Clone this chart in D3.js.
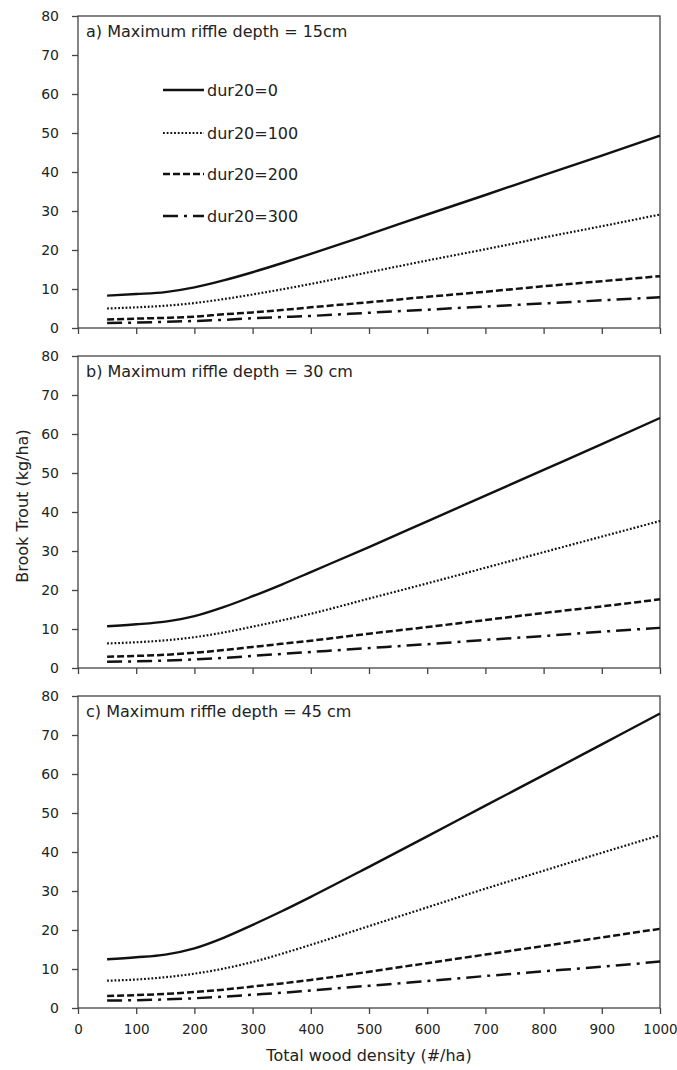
<!DOCTYPE html>
<html>
<head>
<meta charset="utf-8">
<script src="https://cdnjs.cloudflare.com/ajax/libs/d3/7.8.5/d3.min.js"></script>
<style>
  body { margin: 0; background: #fff; }
  text { font-family: "DejaVu Sans", Verdana, sans-serif; fill: #222; }
</style>
</head>
<body>
<div id="chart"></div>
<script>
// wood density (#/ha) where the curves were read
var woodDensity = [50, 100, 150, 200, 250, 300, 350, 400, 500, 600, 700, 800, 900, 1000];

var seriesNames = ["dur20=0", "dur20=100", "dur20=200", "dur20=300"];
var panelTitles = ["a) Maximum riffle depth = 15cm", "b) Maximum riffle depth = 30 cm", "c) Maximum riffle depth = 45 cm"];

// panel a : depth 15cm
var depth15_dur0   = [8.3, 8.7, 9.2, 10.4, 12.2, 14.3, 16.6, 19.0, 24.0, 29.1, 34.1, 39.2, 44.2, 49.3];
var depth15_dur100 = [5.0, 5.3, 5.7, 6.4, 7.4, 8.6, 9.9, 11.3, 14.3, 17.3, 20.2, 23.2, 26.1, 29.1];
var depth15_dur200 = [2.2, 2.4, 2.6, 2.9, 3.5, 4.0, 4.6, 5.3, 6.6, 8.0, 9.3, 10.7, 12.0, 13.3];
var depth15_dur300 = [1.3, 1.4, 1.6, 1.8, 2.1, 2.5, 2.8, 3.1, 3.9, 4.7, 5.5, 6.3, 7.1, 7.9];

// panel b : depth 30cm
var depth30_dur0   = [10.7, 11.2, 11.9, 13.3, 15.6, 18.4, 21.4, 24.6, 31.0, 37.6, 44.2, 50.8, 57.4, 64.1];
var depth30_dur100 = [6.3, 6.6, 7.1, 7.9, 9.1, 10.6, 12.2, 13.9, 17.8, 21.7, 25.7, 29.7, 33.7, 37.7];
var depth30_dur200 = [2.9, 3.1, 3.4, 3.9, 4.6, 5.4, 6.2, 7.0, 8.8, 10.5, 12.3, 14.1, 15.8, 17.6];
var depth30_dur300 = [1.6, 1.7, 1.9, 2.2, 2.6, 3.1, 3.6, 4.1, 5.1, 6.1, 7.2, 8.2, 9.3, 10.3];

// panel c : depth 45cm
var depth45_dur0   = [12.5, 13.0, 13.7, 15.3, 18.0, 21.3, 24.8, 28.5, 36.2, 44.0, 51.9, 59.7, 67.6, 75.5];
var depth45_dur100 = [7.0, 7.3, 7.9, 8.8, 10.1, 11.8, 13.9, 16.2, 21.0, 25.8, 30.6, 35.2, 39.8, 44.3];
var depth45_dur200 = [3.1, 3.3, 3.6, 4.1, 4.7, 5.5, 6.3, 7.2, 9.3, 11.5, 13.7, 15.9, 18.1, 20.3];
var depth45_dur300 = [1.9, 2.0, 2.2, 2.5, 2.9, 3.4, 3.9, 4.5, 5.7, 6.9, 8.2, 9.4, 10.6, 11.9];

var xTicks = [0, 100, 200, 300, 400, 500, 600, 700, 800, 900, 1000];
var yTicks = [0, 10, 20, 30, 40, 50, 60, 70, 80];

var panels = [
  [depth15_dur0, depth15_dur100, depth15_dur200, depth15_dur300],
  [depth30_dur0, depth30_dur100, depth30_dur200, depth30_dur300],
  [depth45_dur0, depth45_dur100, depth45_dur200, depth45_dur300]
];

// line styles: solid, dotted, dashed, dash-dot
var dashes = [null, "1.8,1.9", "7,3", "15,6,3,6"];
var widths = [2.4, 2.2, 2.5, 2.5];

var width = 677, height = 1070;
var left = 78, right = 660;
var panelTop = [16, 356, 696];
var panelH = 312;

var svg = d3.select("#chart").append("svg")
    .attr("width", width)
    .attr("height", height);

svg.append("rect").attr("width", width).attr("height", height).attr("fill", "#fff");

var x = d3.scaleLinear().domain([0, 1000]).range([left, right]);

panels.forEach(function(series, p) {
    var top = panelTop[p];
    var y = d3.scaleLinear().domain([0, 80]).range([top + panelH, top]);

    // frame
    svg.append("rect")
        .attr("x", left).attr("y", top)
        .attr("width", right - left).attr("height", panelH)
        .attr("fill", "none").attr("stroke", "#444").attr("stroke-width", 1.3);

    // y axis
    var ya = svg.append("g")
        .attr("transform", "translate(" + left + ",0)")
        .call(d3.axisLeft(y).tickValues(yTicks).tickSize(6).tickPadding(13));
    ya.select(".domain").remove();
    ya.selectAll("line").attr("stroke", "#444").attr("stroke-width", 1.3);
    ya.selectAll("text").style("font-size", "14px").attr("fill", "#222")
        .style("font-family", "DejaVu Sans, sans-serif");

    // x axis (labels only under the last panel)
    var xa = svg.append("g")
        .attr("transform", "translate(0," + (top + panelH) + ")")
        .call(d3.axisBottom(x).tickValues(xTicks).tickSize(6).tickPadding(10)
            .tickFormat(p == 2 ? d3.format("d") : ""));
    xa.select(".domain").remove();
    xa.selectAll("line").attr("stroke", "#444").attr("stroke-width", 1.3);
    xa.selectAll("text").style("font-size", "13.5px").attr("fill", "#222")
        .style("font-family", "DejaVu Sans, sans-serif");

    // panel title
    svg.append("text")
        .attr("x", left + 8).attr("y", top + 21)
        .style("font-size", "16px")
        .text(panelTitles[p]);

    var line = d3.line()
        .x(function(d, i) { return x(woodDensity[i]); })
        .y(function(d) { return y(d); })
        .curve(d3.curveMonotoneX);

    series.forEach(function(vals, s) {
        svg.append("path")
            .datum(vals)
            .attr("fill", "none")
            .attr("stroke", "#111")
            .attr("stroke-width", widths[s])
            .attr("stroke-dasharray", dashes[s])
            .attr("d", line);
    });
});

// legend inside panel a
var legendY = [90, 133, 174, 216];
seriesNames.forEach(function(name, s) {
    svg.append("line")
        .attr("x1", 163).attr("x2", 204)
        .attr("y1", legendY[s]).attr("y2", legendY[s])
        .attr("stroke", "#111")
        .attr("stroke-width", widths[s])
        .attr("stroke-dasharray", dashes[s]);
    svg.append("text")
        .attr("x", 207).attr("y", legendY[s] + 6)
        .style("font-size", "16px")
        .text(name);
});

// axis titles
svg.append("text")
    .attr("x", (left + right) / 2).attr("y", 1061)
    .attr("text-anchor", "middle")
    .style("font-size", "16px")
    .text("Total wood density (#/ha)");

svg.append("text")
    .attr("transform", "translate(28,506) rotate(-90)")
    .attr("text-anchor", "middle")
    .style("font-size", "16px")
    .text("Brook Trout (kg/ha)");
</script>
</body>
</html>
